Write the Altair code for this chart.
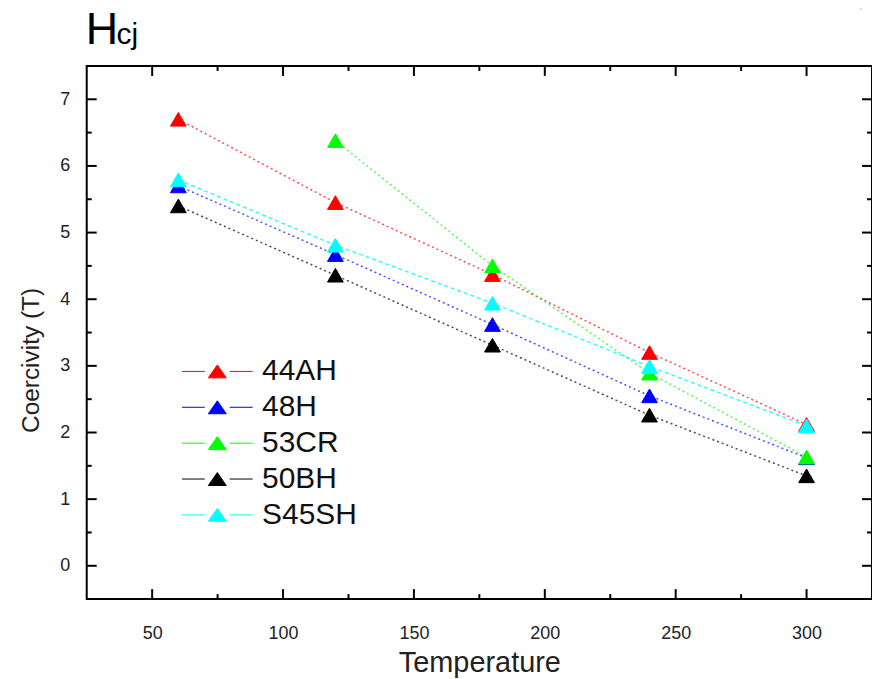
import altair as alt
import pandas as pd

# ---------------- data ----------------
series = ["44AH", "48H", "53CR", "50BH", "S45SH"]
colors = ["#ff0000", "#0000ff", "#00ff00", "#000000", "#00ffff"]
dashed_series = ["S45SH"]
temperature = [60, 120, 180, 240, 300]
v_44AH = [6.70, 5.45, 4.37, 3.20, 2.12]
v_48H = [5.70, 4.67, 3.62, 2.55, 1.62]
v_53CR = [None, 6.38, 4.50, 2.89, 1.63]
v_50BH = [5.40, 4.36, 3.31, 2.26, 1.35]
v_S45SH = [5.79, 4.81, 3.94, 2.99, 2.10]

x_major = [50, 100, 150, 200, 250, 300]
x_minor = [75, 125, 175, 225, 275]
y_major = [0, 1, 2, 3, 4, 5, 6, 7]
y_minor = [0.5, 1.5, 2.5, 3.5, 4.5, 5.5, 6.5]

rows = []
for i, (s, vals) in enumerate(zip(series, [v_44AH, v_48H, v_53CR, v_50BH, v_S45SH])):
    for t, v in zip(temperature, vals):
        if v is not None:
            rows.append({"series": s, "order": i, "line_color": colors[i],
                         "dashed": s in dashed_series, "temperature": t, "value": v})
df = pd.DataFrame(rows)

W, H = 788, 535
FONT = "Liberation Sans"
xs = alt.Scale(domain=[25, 325], nice=False, zero=False)
ys = alt.Scale(domain=[-0.5, 7.5], nice=False, zero=False)
cscale = alt.Scale(domain=series, range=colors)

# legend glyph: line - triangle - line, box right edge at x=+1
legend_path = ("M-2.94,0L-1.67,0M-0.28,0L1,0"
               "M-1.47,0.36L-0.97,-0.36L-0.47,0.36Z")
leg = alt.Legend(
    title=None, orient="none", legendX=130, legendY=288,
    symbolType=legend_path, symbolSize=1296, symbolStrokeWidth=1,
    labelFont=FONT, labelFontSize=30, labelColor="#111", labelOffset=9,
    rowPadding=2, padding=0,
)

x_enc = alt.X("temperature:Q", scale=xs,
              axis=alt.Axis(values=x_major, title="Temperature", ticks=False, domain=False,
                            grid=False, labelFont=FONT, labelFontSize=18, labelColor="#222",
                            labelPadding=26, titleFont=FONT, titleFontSize=29,
                            titleFontWeight="normal", titleColor="#222", titlePadding=6))
y_enc = alt.Y("value:Q", scale=ys,
              axis=alt.Axis(values=y_major, format="d", title="Coercivity (T)", ticks=False,
                            domain=False, grid=False, labelFont=FONT, labelFontSize=18,
                            labelColor="#222", labelPadding=17, titleFont=FONT,
                            titleFontSize=24.5, titleFontWeight="normal", titleColor="#222",
                            titlePadding=16, titleY=295))

base_line = alt.Chart(df).encode(
    x=x_enc, y=y_enc,
    color=alt.Color("line_color:N", scale=None),
    detail="series:N",
)
lines_dot = base_line.transform_filter("!datum.dashed").mark_line(
    strokeWidth=1.5, opacity=0.7, strokeDash=[2, 3])
lines_dash = base_line.transform_filter("datum.dashed").mark_line(
    strokeWidth=1.5, opacity=0.8, strokeDash=[4, 3])

points = alt.Chart(df).mark_point(shape="triangle-up", filled=True, size=250, strokeWidth=1, opacity=1).encode(
    x=alt.X("temperature:Q", scale=xs),
    y=alt.Y("value:Q", scale=ys),
    fill=alt.Fill("series:N", scale=cscale, legend=leg),
    stroke=alt.Stroke("series:N", scale=cscale, legend=leg),
    order=alt.Order("order:Q"),
)

tick_x = pd.DataFrame({"v": x_major})
tick_xm = pd.DataFrame({"v": x_minor})
tick_y = pd.DataFrame({"v": y_major})
tick_ym = pd.DataFrame({"v": y_minor})

def xticks(d, L):
    b = alt.Chart(d).mark_rule(color="black", strokeWidth=2)
    return (b.encode(x=alt.X("v:Q", scale=xs), y=alt.value(H), y2=alt.value(H - L))
            + b.encode(x=alt.X("v:Q", scale=xs), y=alt.value(0), y2=alt.value(L)))

def yticks(d, L):
    b = alt.Chart(d).mark_rule(color="black", strokeWidth=2)
    return (b.encode(y=alt.Y("v:Q", scale=ys), x=alt.value(0), x2=alt.value(L))
            + b.encode(y=alt.Y("v:Q", scale=ys), x=alt.value(W), x2=alt.value(W - L)))

one = pd.DataFrame({"a": [0]})
title_h = alt.Chart(one).mark_text(text="H", font=FONT, fontSize=45, align="left",
                                   baseline="alphabetic", color="black").encode(
    x=alt.value(-1), y=alt.value(-22))
title_cj = alt.Chart(one).mark_text(text="cj", font=FONT, fontSize=30, align="left",
                                    baseline="alphabetic", color="black").encode(
    x=alt.value(30), y=alt.value(-22))
corner = alt.Chart(one).mark_rule(color="#bbb", strokeWidth=1).encode(
    x=alt.value(777), y=alt.value(-65), y2=alt.value(-56))

chart = alt.layer(
    lines_dot, lines_dash, points,
    xticks(tick_x, 10), xticks(tick_xm, 5), yticks(tick_y, 10), yticks(tick_ym, 5),
    title_h, title_cj, corner,
).properties(
    width=W, height=H,
    padding={"left": 79, "top": 57, "right": 0, "bottom": 78},
    autosize=alt.AutoSizeParams(type="none"),
).configure_view(stroke="black", strokeWidth=2)

chart.save("out.html", embed_options={"renderer": "svg", "actions": False})
